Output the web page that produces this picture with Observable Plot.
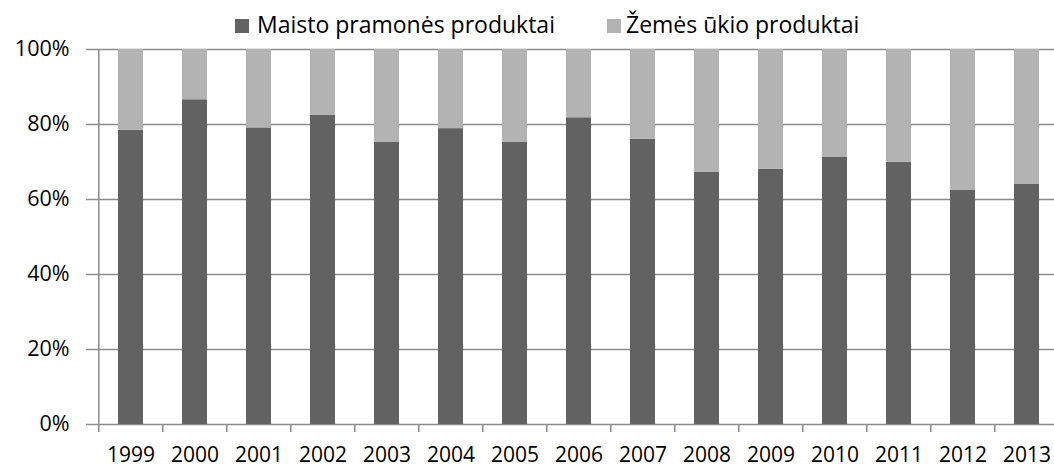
<!DOCTYPE html>
<html>
<head>
<meta charset="utf-8">
<script src="https://cdn.jsdelivr.net/npm/d3@7"></script>
<script src="https://cdn.jsdelivr.net/npm/@observablehq/plot@0.6"></script>
<style>
  html, body { margin: 0; padding: 0; background: #fff; }
  #wrap { position: relative; width: 1054px; height: 468px; overflow: hidden; font-family: "Open Sans", sans-serif; }
  #chart, #legend { position: absolute; top: 0; left: 0; }
</style>
</head>
<body>
<div id="wrap">
  <div id="chart"></div>
  <div id="legend"></div>
</div>
<script>
const years = ["1999","2000","2001","2002","2003","2004","2005","2006","2007","2008","2009","2010","2011","2012","2013"];
const maisto = [78.5, 86.6, 79.1, 82.4, 75.2, 78.9, 75.2, 81.8, 76.1, 67.2, 68.1, 71.2, 69.9, 62.4, 64.0];
const zemes  = [21.5, 13.4, 20.9, 17.6, 24.8, 21.1, 24.8, 18.2, 23.9, 32.8, 31.9, 28.8, 30.1, 37.6, 36.0];
const seriesNames = ["Maisto pramonės produktai", "Žemės ūkio produktai"];
const seriesColors = ["#626262", "#b3b3b3"];
const yTicks = [0, 20, 40, 60, 80, 100];

const rows = years.flatMap((y, i) => [
  {year: y, series: seriesNames[0], value: maisto[i]},
  {year: y, series: seriesNames[1], value: zemes[i]}
]);

const gridColor = "#8c8c8c";
const labelSize = 21;

const chart = Plot.plot({
  width: 1054,
  height: 468,
  marginLeft: 95,
  marginRight: -7,
  marginTop: 49,
  marginBottom: 44,
  style: {fontFamily: "'Open Sans', sans-serif", fontSize: labelSize + "px", color: "#000", background: "#fff", overflow: "visible"},
  x: {domain: years, paddingInner: 0.612, paddingOuter: 0.306, label: null},
  y: {domain: [0, 100], label: null},
  color: {domain: seriesNames, range: seriesColors},
  marks: [
    Plot.gridY(yTicks, {stroke: gridColor, strokeOpacity: 1, strokeWidth: 1.5}),
    Plot.barY(rows, {x: "year", y: "value", fill: "series", order: seriesNames}),
    Plot.ruleX([years[0]], {x: d => d, dx: -32.2, y1: 0, y2: 100, stroke: gridColor, strokeWidth: 1.5}),
    Plot.axisY(yTicks, {tickSize: 9, tickPadding: 17, stroke: gridColor, strokeWidth: 1.5, tickFormat: d => d + "%", fontSize: 21.5, label: null}),
    Plot.axisX(years, {tickSize: 8, dx: -32.2, stroke: gridColor, strokeWidth: 1.5, text: null, label: null}),
    Plot.axisX(years, {tickSize: 0, tickPadding: 23, fontSize: labelSize, label: null})
  ]
});
document.getElementById("chart").appendChild(chart);

// Legend above the plot area
const lg = d3.select("#legend").append("svg")
  .attr("width", 1054).attr("height", 45)
  .style("font-family", "'Open Sans', sans-serif");
const legendX = [235, 607];
const textX = [257, 626];
seriesNames.forEach((name, i) => {
  lg.append("rect").attr("x", legendX[i]).attr("y", 19).attr("width", 14).attr("height", 14).attr("fill", seriesColors[i]);
  lg.append("text").attr("x", textX[i]).attr("y", 33).attr("font-size", 23).attr("fill", "#000").text(name);
});
</script>
</body>
</html>
